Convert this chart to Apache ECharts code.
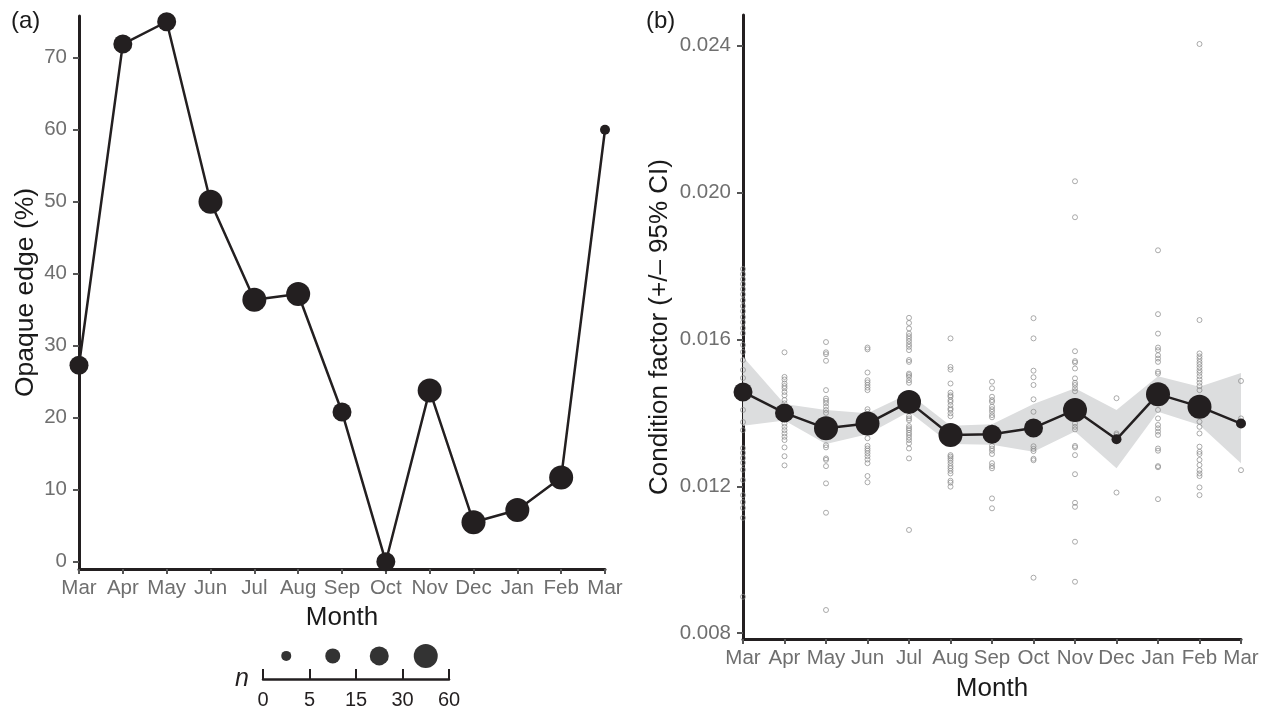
<!DOCTYPE html>
<html><head><meta charset="utf-8">
<script src="https://cdn.jsdelivr.net/npm/echarts@6/dist/echarts.min.js"></script>
<style>html,body{margin:0;padding:0;background:#fff}#c{width:1268px;height:714px}</style>
</head><body><div id="c"></div>
<script>
// ---------- data ----------
const months = ['Mar','Apr','May','Jun','Jul','Aug','Sep','Oct','Nov','Dec','Jan','Feb','Mar'];

// panel (a)
const opaquePct = [27.3,71.9,75.0,50.0,36.4,37.2,20.8,0,23.8,5.5,7.2,11.7,60.0];
const opaqueNClass = [3,3,3,4,4,4,3,3,4,4,4,4,1];
const yTicksA = [0,10,20,30,40,50,60,70];

// panel (b)
const condMean  = [0.01457,0.01400,0.01358,0.01371,0.01430,0.01340,0.01342,0.01359,0.01408,0.01328,0.01451,0.01417,0.01371];
const condUpper = [0.01553,0.01424,0.01408,0.01399,0.01453,0.01365,0.01369,0.01424,0.01467,0.01408,0.01500,0.01471,0.01509];
const condLower = [0.01365,0.01379,0.01315,0.01342,0.01403,0.01315,0.01313,0.01294,0.01349,0.01249,0.01403,0.01367,0.01263];
const condNClass = [3,3,4,4,4,4,3,3,4,1,4,4,1];
const yTicksB = [0.008,0.012,0.016,0.020,0.024];

const rawMar1 = [0.01792,0.01778,0.01764,0.01751,0.01737,0.01723,0.01707,0.01691,0.01677,0.01661,0.01647,0.01631,0.01617,0.01585,0.01566,0.01544,0.01517,0.01495,0.01408,0.01375,0.01353,0.01304,0.01291,0.01277,0.01264,0.01245,0.01217,0.01176,0.01157,0.01141,0.01114,0.00899];
const rawApr = [0.01565,0.01498,0.01491,0.01480,0.01473,0.01467,0.01457,0.01448,0.01435,0.01426,0.01400,0.01390,0.01371,0.01362,0.01353,0.01344,0.01335,0.01326,0.01306,0.01282,0.01257];
const rawMay = [0.01593,0.01565,0.01560,0.01542,0.01462,0.01439,0.01433,0.01426,0.01417,0.01408,0.01400,0.01380,0.01360,0.01340,0.01312,0.01306,0.01276,0.01272,0.01255,0.01208,0.01128,0.00863];
const rawJun = [0.01578,0.01573,0.01510,0.01489,0.01483,0.01476,0.01469,0.01462,0.01410,0.01403,0.01380,0.01360,0.01331,0.01310,0.01303,0.01297,0.01290,0.01282,0.01273,0.01263,0.01228,0.01211];
const rawJul = [0.01659,0.01645,0.01630,0.01616,0.01609,0.01602,0.01595,0.01587,0.01580,0.01571,0.01544,0.01539,0.01507,0.01503,0.01498,0.01489,0.01482,0.01391,0.01385,0.01380,0.01364,0.01358,0.01353,0.01346,0.01340,0.01333,0.01326,0.01317,0.01303,0.01276,0.01081];
const rawAug = [0.01603,0.01525,0.01518,0.01480,0.01455,0.01448,0.01444,0.01435,0.01430,0.01421,0.01412,0.01408,0.01399,0.01391,0.01360,0.01340,0.01320,0.01285,0.01281,0.01276,0.01270,0.01263,0.01255,0.01249,0.01242,0.01235,0.01215,0.01210,0.01199];
const rawSep = [0.01485,0.01467,0.01444,0.01435,0.01430,0.01417,0.01410,0.01403,0.01394,0.01388,0.01360,0.01340,0.01310,0.01303,0.01297,0.01288,0.01263,0.01255,0.01249,0.01167,0.01140];
const rawOct = [0.01658,0.01603,0.01515,0.01497,0.01476,0.01437,0.01403,0.01370,0.01350,0.01309,0.01302,0.01296,0.01275,0.01271,0.00951];
const rawNov = [0.02031,0.01933,0.01568,0.01541,0.01537,0.01521,0.01494,0.01482,0.01476,0.01467,0.01459,0.01371,0.01362,0.01355,0.01310,0.01306,0.01285,0.01233,0.01155,0.01144,0.01049,0.00940];
const rawDec = [0.01440,0.01344,0.01340,0.01183];
const rawJan = [0.01843,0.01669,0.01616,0.01578,0.01571,0.01557,0.01548,0.01539,0.01512,0.01507,0.01408,0.01385,0.01367,0.01358,0.01349,0.01340,0.01303,0.01297,0.01255,0.01252,0.01165];
const rawFeb = [0.02405,0.01653,0.01562,0.01554,0.01547,0.01539,0.01532,0.01524,0.01516,0.01509,0.01500,0.01491,0.01482,0.01473,0.01462,0.01376,0.01362,0.01344,0.01308,0.01294,0.01288,0.01272,0.01258,0.01244,0.01235,0.01228,0.01197,0.01176];
const rawMar2 = [0.01487,0.01385,0.01244];
const rawByMonth = [rawMar1,rawApr,rawMay,rawJun,rawJul,rawAug,rawSep,rawOct,rawNov,rawDec,rawJan,rawFeb,rawMar2];

// size legend
const nLegendLabels = ['0','5','15','30','60'];
const nLegendClasses = [1,2,3,4];

// ---------- styles ----------
const FONT = 'Liberation Sans';
const INK = '#231f20';
const LABEL = '#6f6f6f';
const TICK = '#555555';
const sizePx = [0,10,15,19,24];

const rawData = [];
rawByMonth.forEach((arr,i)=>arr.forEach(v=>rawData.push([i,v])));
const bandWidth = condUpper.map((u,i)=>u-condLower[i]);
const legendData = nLegendClasses.map((c,i)=>[i+0.5,0.66,c]);

function catX(gi){
  return {
    gridIndex: gi, type:'category', data: months, boundaryGap:false,
    axisLine:{show:true,onZero:false,lineStyle:{color:INK,width:3}},
    axisTick:{show:true,interval:0,length:5,lineStyle:{color:TICK,width:2}},
    axisLabel:{interval:0,color:LABEL,fontSize:20.5,fontFamily:FONT,margin:9},
    splitLine:{show:false},
    name:'Month', nameLocation:'middle',
    nameTextStyle:{color:'#1a1a1a',fontSize:26,fontFamily:FONT}
  };
}

const option = {
  animation:false,
  backgroundColor:'#fff',
  textStyle:{fontFamily:FONT},
  title:[
    {text:'(a)',left:6,top:4,textStyle:{fontSize:24,fontWeight:'normal',color:'#1a1a1a',fontFamily:FONT}},
    {text:'(b)',left:641,top:4,textStyle:{fontSize:24,fontWeight:'normal',color:'#1a1a1a',fontFamily:FONT}}
  ],
  grid:[
    {left:79,top:16,width:526,height:553},
    {left:743,top:15,width:498,height:624},
    {left:263,top:644,width:186,height:35}
  ],
  xAxis:[
    Object.assign(catX(0),{nameGap:36}),
    Object.assign(catX(1),{nameGap:37}),
    {gridIndex:2,type:'value',min:0,max:4,
     axisLine:{show:true,onZero:false,lineStyle:{color:INK,width:2.5}},
     axisTick:{show:true,inside:true,length:10,customValues:[0,1,2,3,4],lineStyle:{color:INK,width:2}},
     axisLabel:{customValues:[0,1,2,3,4],formatter:v=>nLegendLabels[Math.round(v)],color:INK,fontSize:20,fontFamily:FONT,margin:11},
     splitLine:{show:false},
     name:'n',nameLocation:'start',nameGap:14,
     nameTextStyle:{fontStyle:'italic',fontSize:25,color:INK,fontFamily:FONT}}
  ],
  yAxis:[
    {gridIndex:0,type:'value',min:-1,max:75.8,
     axisLine:{show:true,onZero:false,lineStyle:{color:INK,width:3}},
     axisTick:{show:true,length:6,customValues:yTicksA,lineStyle:{color:TICK,width:2}},
     axisLabel:{customValues:yTicksA,color:LABEL,fontSize:20.5,fontFamily:FONT,margin:12},
     splitLine:{show:false},
     name:'Opaque edge (%)',nameLocation:'middle',nameGap:40,
     nameTextStyle:{color:'#1a1a1a',fontSize:26.5,fontFamily:FONT}},
    {gridIndex:1,type:'value',min:0.00784,max:0.02484,
     axisLine:{show:true,onZero:false,lineStyle:{color:INK,width:3}},
     axisTick:{show:true,length:6,customValues:yTicksB,lineStyle:{color:TICK,width:2}},
     axisLabel:{customValues:yTicksB,formatter:v=>v.toFixed(3),color:LABEL,fontSize:20.5,fontFamily:FONT,margin:12},
     splitLine:{show:false},
     name:'Condition factor (+/\u2013 95% CI)',nameLocation:'middle',nameGap:70,
     nameTextStyle:{color:'#1a1a1a',fontSize:26,fontFamily:FONT}},
    {gridIndex:2,type:'value',min:0,max:1,show:false}
  ],
  series:[
    {type:'line',xAxisIndex:0,yAxisIndex:0,data:opaquePct,
     symbol:'circle',symbolSize:(v,p)=>sizePx[opaqueNClass[p.dataIndex]],
     itemStyle:{color:INK},lineStyle:{color:INK,width:2.5},z:5},
    {type:'line',xAxisIndex:1,yAxisIndex:1,data:condLower,stack:'ci',symbol:'none',
     lineStyle:{opacity:0},z:1},
    {type:'line',xAxisIndex:1,yAxisIndex:1,data:bandWidth,stack:'ci',symbol:'none',
     lineStyle:{opacity:0},areaStyle:{color:'#dcddde',opacity:1},z:1},
    {type:'scatter',xAxisIndex:1,yAxisIndex:1,data:rawData,symbol:'circle',symbolSize:5,
     itemStyle:{color:'rgba(0,0,0,0)',borderColor:'#8a8a8a',borderWidth:0.9},z:3},
    {type:'line',xAxisIndex:1,yAxisIndex:1,data:condMean,
     symbol:'circle',symbolSize:(v,p)=>sizePx[condNClass[p.dataIndex]],
     itemStyle:{color:INK},lineStyle:{color:INK,width:2.5},z:5},
    {type:'scatter',xAxisIndex:2,yAxisIndex:2,data:legendData,symbol:'circle',
     symbolSize:v=>sizePx[v[2]],itemStyle:{color:'#000'},z:5}
  ]
};
const chart = echarts.init(document.getElementById('c'),null,{renderer:'canvas'});
chart.setOption(option);
</script></body></html>
